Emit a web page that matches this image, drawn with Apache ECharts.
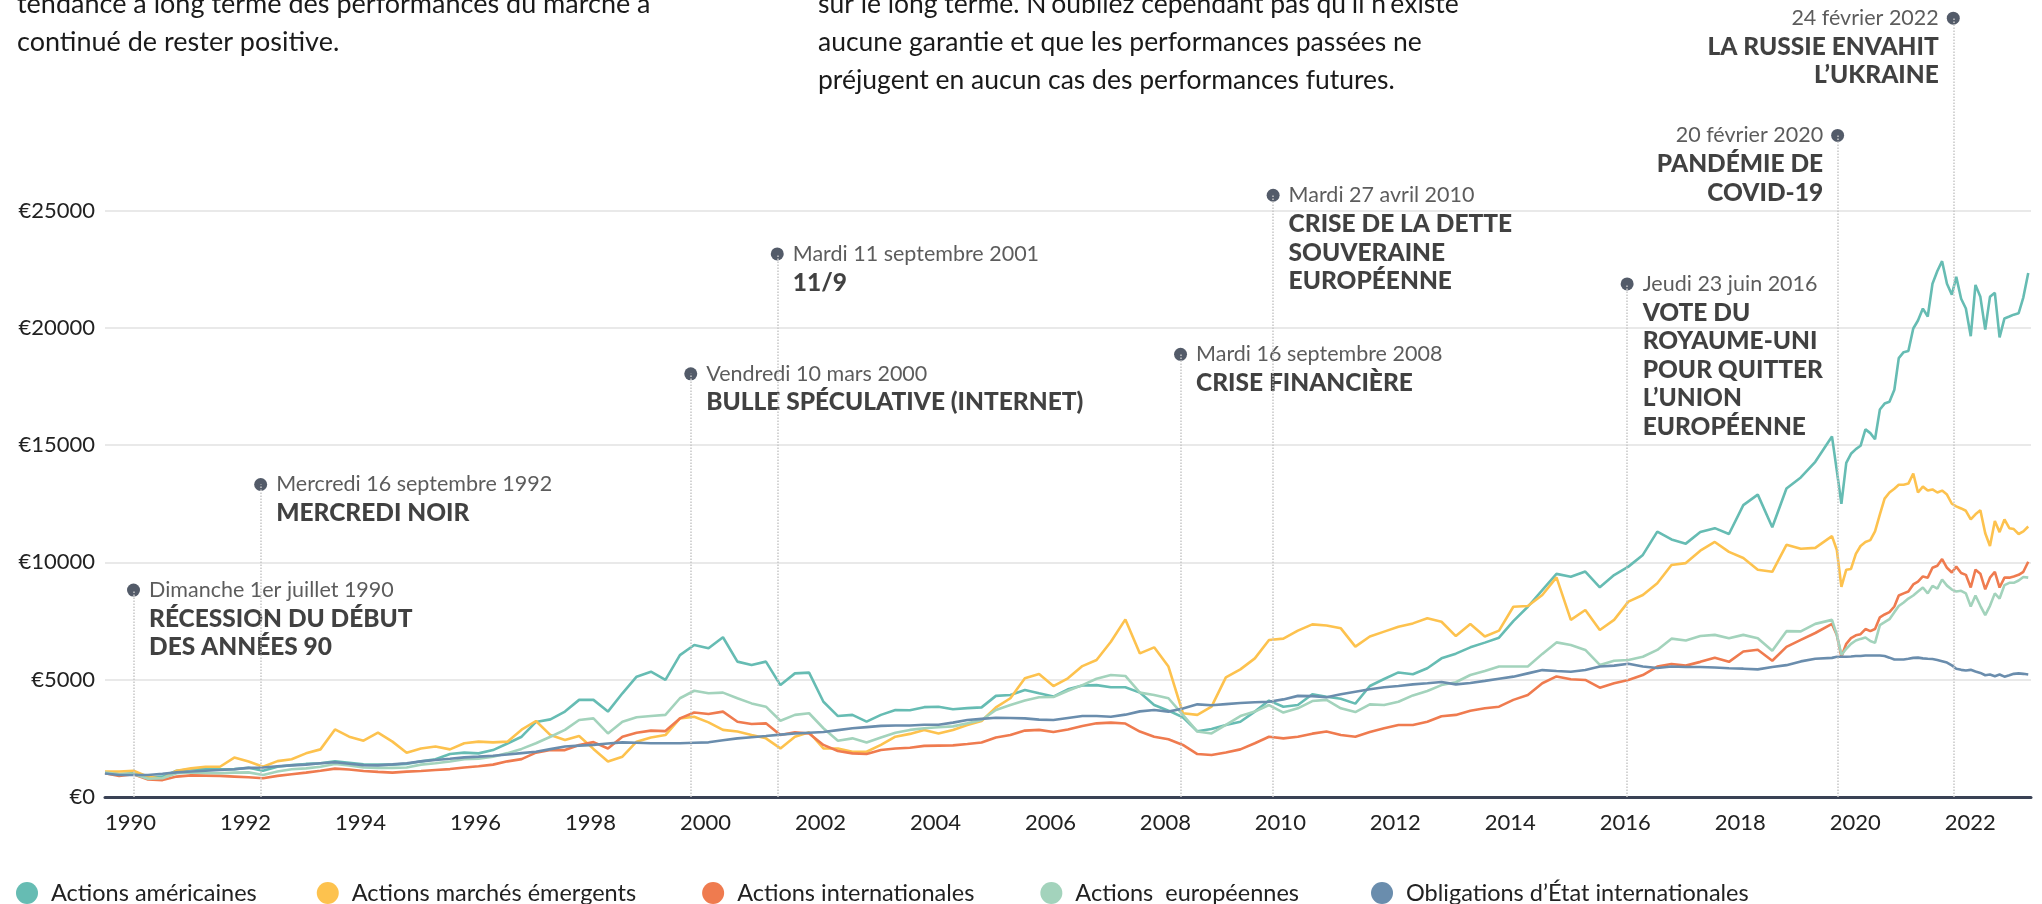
<!DOCTYPE html>
<html>
<head>
<meta charset="utf-8">
<title>Performances des marchés 1990-2023</title>
<script src="https://cdn.jsdelivr.net/npm/echarts@6/dist/echarts.min.js"></script>
<style>
  html, body { margin: 0; padding: 0; background: #fff; }
  #chart { width: 2042px; height: 904px; }
</style>
</head>
<body>
<div id="chart"></div>
<script>
// dates : trimestriel 1990-2019, puis mensuel 2020-2023
var dates = [];
for (var y = 1990; y <= 2019; y++) {
  ['01', '04', '07', '10'].forEach(function (m) { dates.push(y + '-' + m + '-01'); });
}
for (var y2 = 2020; y2 <= 2023; y2++) {
  for (var m2 = 1; m2 <= 12; m2++) {
    if (y2 === 2023 && m2 > 6) break;
    dates.push(y2 + '-' + (m2 < 10 ? '0' : '') + m2 + '-15');
  }
}

var seriesNames = ['Actions américaines', 'Actions marchés émergents', 'Actions internationales', 'Actions  européennes', 'Obligations d’État internationales'];
var seriesColors = ['#66bcb3', '#fdc24e', '#ef7b4f', '#a3d3bc', '#6a8dad'];

// 1990 -> 2019, trimestriel
var usQ = [1050, 980, 1010, 840, 870, 1120, 1180, 1180, 1180, 1190, 1250, 1120, 1290, 1360, 1410, 1440,
  1520, 1460, 1390, 1380, 1380, 1410, 1520, 1610, 1830, 1890, 1860, 2000, 2280, 2570, 3200, 3310,
  3640, 4140, 4140, 3640, 4420, 5130, 5340, 4990, 6050, 6480, 6340, 6810, 5770, 5630, 5770, 4770,
  5270, 5300, 4060, 3450, 3500, 3210, 3500, 3710, 3700, 3830, 3850, 3740, 3790, 3820, 4310, 4350,
  4560, 4420, 4280, 4590, 4750, 4770, 4680, 4680, 4450, 3920, 3680, 3400, 2800, 2900, 3070, 3210,
  3640, 4110, 3850, 3920, 4380, 4270, 4190, 3980, 4730, 5030, 5310, 5230, 5490, 5910, 6110, 6380,
  6580, 6790, 7500, 8110, 8820, 9510, 9390, 9610, 8940, 9460, 9820, 10320, 11310, 10980, 10800, 11300,
  11460, 11210, 12440, 12890, 11500, 13150, 13620, 14290];
var emQ = [1080, 1090, 1120, 870, 770, 1120, 1220, 1290, 1290, 1680, 1510, 1290, 1530, 1610, 1860, 2030,
  2880, 2570, 2400, 2740, 2360, 1890, 2070, 2150, 2030, 2290, 2360, 2330, 2360, 2870, 3240, 2640,
  2430, 2600, 2050, 1510, 1720, 2360, 2540, 2640, 3350, 3420, 3180, 2860, 2790, 2640, 2500, 2070,
  2570, 2760, 2070, 2070, 1930, 1930, 2220, 2570, 2690, 2860, 2710, 2860, 3070, 3240, 3820, 4210,
  5060, 5240, 4730, 5060, 5580, 5840, 6620, 7570, 6120, 6380, 5560, 3570, 3500, 3850, 5100, 5440,
  5910, 6690, 6750, 7090, 7360, 7310, 7190, 6410, 6840, 7050, 7260, 7400, 7620, 7470, 6860, 7370,
  6840, 7090, 8110, 8140, 8610, 9360, 7550, 7970, 7120, 7550, 8330, 8610, 9110, 9890, 9970, 10500,
  10870, 10450, 10190, 9690, 9600, 10750, 10580, 10620];
var intlQ = [1010, 900, 970, 750, 720, 870, 920, 910, 900, 870, 840, 800, 900, 970, 1040, 1120,
  1210, 1170, 1110, 1070, 1040, 1080, 1110, 1150, 1190, 1260, 1310, 1380, 1520, 1615, 1890, 2000,
  2000, 2220, 2340, 2070, 2570, 2740, 2830, 2810, 3350, 3600, 3540, 3640, 3210, 3110, 3140, 2640,
  2760, 2710, 2220, 1960, 1860, 1830, 2000, 2070, 2100, 2180, 2190, 2200, 2260, 2320, 2540, 2640,
  2830, 2860, 2770, 2880, 3030, 3140, 3170, 3130, 2790, 2570, 2460, 2220, 1830, 1790, 1900, 2030,
  2290, 2570, 2500, 2570, 2700, 2790, 2640, 2570, 2770, 2930, 3070, 3070, 3210, 3440, 3500, 3680,
  3780, 3850, 4140, 4350, 4850, 5140, 5020, 4990, 4660, 4850, 4990, 5200, 5560, 5670, 5600, 5760,
  5940, 5760, 6200, 6280, 5810, 6400, 6700, 6990];
var euQ = [1040, 970, 980, 780, 800, 1010, 1050, 1020, 1010, 1040, 1050, 940, 1090, 1180, 1220, 1290,
  1410, 1340, 1260, 1240, 1240, 1260, 1380, 1440, 1510, 1610, 1630, 1720, 1870, 2050, 2290, 2570,
  2860, 3280, 3350, 2710, 3210, 3400, 3450, 3500, 4210, 4530, 4420, 4450, 4210, 3990, 3850, 3250,
  3500, 3570, 2930, 2400, 2500, 2320, 2540, 2740, 2860, 2930, 2970, 3010, 3140, 3280, 3710, 3920,
  4110, 4250, 4260, 4530, 4770, 5040, 5200, 5160, 4450, 4350, 4210, 3500, 2790, 2710, 3070, 3450,
  3640, 3920, 3600, 3780, 4090, 4140, 3780, 3620, 3950, 3920, 4060, 4330, 4520, 4770, 4890, 5200,
  5370, 5560, 5560, 5560, 6100, 6590, 6480, 6270, 5630, 5810, 5840, 5980, 6270, 6750, 6670, 6860,
  6910, 6770, 6910, 6770, 6230, 7070, 7060, 7380];
var bondQ = [1000, 940, 940, 940, 990, 1050, 1090, 1120, 1150, 1180, 1240, 1260, 1310, 1350, 1380, 1440,
  1480, 1420, 1360, 1350, 1390, 1440, 1520, 1580, 1630, 1690, 1720, 1760, 1810, 1870, 1930, 2040,
  2150, 2190, 2220, 2280, 2330, 2310, 2290, 2290, 2290, 2310, 2330, 2420, 2500, 2550, 2600, 2660,
  2710, 2740, 2770, 2850, 2930, 2980, 3030, 3050, 3050, 3080, 3080, 3170, 3280, 3330, 3380, 3370,
  3350, 3300, 3280, 3370, 3450, 3450, 3420, 3510, 3650, 3710, 3640, 3770, 3950, 3910, 3960, 4010,
  4040, 4060, 4160, 4310, 4300, 4250, 4380, 4490, 4590, 4680, 4730, 4800, 4850, 4900, 4800, 4860,
  4950, 5040, 5130, 5270, 5410, 5370, 5340, 5410, 5560, 5600, 5680, 5560, 5500, 5560, 5540, 5540,
  5520, 5490, 5470, 5440, 5540, 5620, 5780, 5890];

// janvier 2020 -> juin 2023, mensuel
var usM = [15370, 13900, 12500, 14240, 14630, 14830, 14970, 15670, 15510, 15250, 16520, 16770,
  16850, 17360, 18710, 18960, 19010, 19970, 20310, 20820, 20480, 21880, 22420, 22840,
  21880, 21410, 22170, 21240, 20820, 19640, 21830, 21320, 19920, 21320, 21490, 19590,
  20400, 20480, 20560, 20620, 21300, 22340];
var emM = [11120, 10530, 8960, 9690, 9720, 10360, 10700, 10870, 10950, 11320, 12050, 12720,
  12980, 13140, 13310, 13310, 13360, 13790, 12980, 13230, 13060, 13110, 12980, 13060,
  12890, 12500, 12390, 12300, 12200, 11830, 12050, 12220, 11240, 10700, 11760, 11290,
  11830, 11460, 11420, 11210, 11320, 11530];
var intlM = [7380, 6910, 5980, 6530, 6770, 6890, 6940, 7160, 7070, 7160, 7660, 7780,
  7880, 8120, 8590, 8680, 8760, 9060, 9180, 9400, 9350, 9770, 9860, 10140,
  9770, 9570, 9820, 9550, 9470, 8930, 9690, 9520, 8850, 9350, 9600, 8930,
  9350, 9350, 9400, 9470, 9600, 10030];
var euM = [7550, 6910, 6060, 6320, 6530, 6670, 6740, 6800, 6650, 6570, 7330, 7450,
  7580, 7880, 8140, 8290, 8460, 8590, 8760, 8930, 8680, 9000, 8880, 9270,
  9010, 8840, 8760, 8790, 8680, 8120, 8590, 8150, 7750, 8150, 8680, 8460,
  9030, 9130, 9130, 9230, 9380, 9350];
var bondM = [5930, 5980, 5980, 5980, 5990, 6010, 6010, 6030, 6030, 6030, 6030, 6010,
  5940, 5860, 5860, 5860, 5890, 5930, 5940, 5910, 5890, 5880, 5840, 5790,
  5730, 5610, 5470, 5420, 5390, 5420, 5350, 5290, 5190, 5220, 5150, 5220,
  5130, 5190, 5250, 5270, 5250, 5220];

var yTicks = [0, 5000, 10000, 15000, 20000, 25000];

// événements
var eventDates = ['1990-07-01', '1992-09-16', '2000-03-10', '2001-09-11', '2008-09-16', '2010-04-27', '2016-06-23', '2020-02-20', '2022-02-24'];
var eventLevels = [8820, 13320, 18040, 23150, 18870, 25650, 21870, 28200, 33200];
var eventDays = ['Dimanche 1er juillet 1990', 'Mercredi 16 septembre 1992', 'Vendredi 10 mars 2000', 'Mardi 11 septembre 2001',
  'Mardi 16 septembre 2008', 'Mardi 27 avril 2010', 'Jeudi 23 juin 2016', '20 février 2020', '24 février 2022'];
var eventTitles = [
  ['RÉCESSION DU DÉBUT', 'DES ANNÉES 90'],
  ['MERCREDI NOIR'],
  ['BULLE SPÉCULATIVE (INTERNET)'],
  ['11/9'],
  ['CRISE FINANCIÈRE'],
  ['CRISE DE LA DETTE', 'SOUVERAINE', 'EUROPÉENNE'],
  ['VOTE DU', 'ROYAUME-UNI', 'POUR QUITTER', 'L’UNION', 'EUROPÉENNE'],
  ['PANDÉMIE DE', 'COVID-19'],
  ['LA RUSSIE ENVAHIT', 'L’UKRAINE']
];
var eventLeft = [false, false, false, false, false, false, false, true, true];

var introLeft = 'tendance à long terme des performances du marché a\ncontinué de rester positive.';
var introRight = 'sur le long terme. N’oubliez cependant pas qu’il n’existe\naucune garantie et que les performances passées ne\npréjugent en aucun cas des performances futures.';

function toYear(s) {
  var p = s.split('-');
  var yy = +p[0], mm = +p[1], dd = +p[2];
  var a = Date.UTC(yy, 0, 1), b = Date.UTC(yy + 1, 0, 1);
  return yy + (Date.UTC(yy, mm - 1, dd) - a) / (b - a);
}

var FONT = 'Lato, "Noto Sans", sans-serif';
var allValues = [usQ.concat(usM), emQ.concat(emM), intlQ.concat(intlM), euQ.concat(euM), bondQ.concat(bondM)];

var chart = echarts.init(document.getElementById('chart'));

var lineSeries = allValues.map(function (vals, k) {
  return {
    type: 'line',
    name: seriesNames[k],
    xAxisIndex: 0,
    yAxisIndex: 0,
    showSymbol: false,
    symbol: 'none',
    z: 3,
    color: seriesColors[k],
    lineStyle: { width: 2.6, color: seriesColors[k] },
    data: dates.map(function (d, i) { return [toYear(d), vals[i]]; })
  };
});

var eventSeries = {
  type: 'scatter',
  xAxisIndex: 1,
  yAxisIndex: 1,
  z: 2,
  symbol: 'circle',
  symbolSize: 13,
  itemStyle: { color: '#283244' },
  silent: true,
  data: eventDates.map(function (d, i) {
    var left = eventLeft[i];
    var txt = '{' + (left ? 'dr' : 'd') + '|' + eventDays[i] + '}';
    eventTitles[i].forEach(function (t) { txt += '\n{' + (left ? 'tr' : 't') + '|' + t + '}'; });
    return {
      value: [toYear(d), eventLevels[i]],
      label: {
        show: true,
        position: left ? [-8, -8] : [22, -8],
        align: left ? 'right' : 'left',
        verticalAlign: 'top',
        formatter: txt
      }
    };
  }),
  label: {
    show: true,
    rich: {
      d: { fontFamily: FONT, fontSize: 21.5, fontWeight: 'normal', color: '#333', lineHeight: 29, align: 'left' },
      t: { fontFamily: FONT, fontSize: 24.5, fontWeight: 900, color: '#111', lineHeight: 28.6, align: 'left' },
      dr: { fontFamily: FONT, fontSize: 21.5, fontWeight: 'normal', color: '#333', lineHeight: 29, align: 'right' },
      tr: { fontFamily: FONT, fontSize: 24.5, fontWeight: 900, color: '#111', lineHeight: 28.6, align: 'right' }
    }
  },
  markLine: {
    silent: true,
    symbol: 'none',
    label: { show: false },
    lineStyle: { color: '#c6c6c6', type: 'dotted', width: 1.5 },
    data: eventDates.map(function (d, i) {
      return [{ coord: [toYear(d), 0] }, { coord: [toYear(d), eventLevels[i]] }];
    })
  }
};

// espaces ajoutés après certains libellés de légende
var legendTrail = ['', ' ', ' ', '  ', ''];

var option = {
  animation: false,
  backgroundColor: '#fff',
  textStyle: { fontFamily: FONT },
  grid: [
    { left: 105, right: 11, top: 210.5, bottom: 107 },
    { left: 105, right: 11, top: 0, bottom: 107 }
  ],
  legend: {
    left: 11,
    top: 876,
    icon: 'circle',
    itemWidth: 22,
    itemHeight: 22,
    itemGap: 60,
    data: seriesNames,
    formatter: function (name) { return name + legendTrail[seriesNames.indexOf(name)]; },
    textStyle: { fontFamily: FONT, fontSize: 23.5, color: '#222', padding: [0, 0, 0, 8] }
  },
  xAxis: [
    {
      type: 'value', gridIndex: 0, min: 1990, max: 2023.5, interval: 2,
      axisLine: { show: true, lineStyle: { color: '#3a4255', width: 3 } },
      axisTick: { show: false },
      splitLine: { show: false },
      axisLabel: {
        align: 'left', margin: 15, fontSize: 22, color: '#222', fontFamily: FONT,
        showMaxLabel: false,
        formatter: function (v) { return (v % 2 === 0 && v <= 2022) ? String(v) : ''; }
      }
    },
    { type: 'value', gridIndex: 1, min: 1990, max: 2023.5, show: false }
  ],
  yAxis: [
    {
      type: 'value', gridIndex: 0, min: yTicks[0], max: yTicks[yTicks.length - 1], interval: 5000,
      axisLine: { show: false },
      axisTick: { show: false },
      splitLine: { lineStyle: { color: '#e2e2e2', width: 1.5 } },
      axisLabel: { margin: 10, fontSize: 22, color: '#222', fontFamily: FONT, formatter: function (v) { return '€' + v; } }
    },
    // même échelle que l'axe principal, prolongée jusqu'au haut de la page
    { type: 'value', gridIndex: 1, min: 0, max: 33973, show: false }
  ],
  graphic: [
    { type: 'text', x: 17, y: -15, silent: true, style: { text: introLeft, font: '27px ' + FONT, fill: '#1a1a1a', lineHeight: 38, verticalAlign: 'top' } },
    { type: 'text', x: 818, y: -15, silent: true, style: { text: introRight, font: '26.5px ' + FONT, fill: '#1a1a1a', lineHeight: 38, verticalAlign: 'top' } }
  ],
  series: [eventSeries].concat(lineSeries)
};

chart.setOption(option);
</script>
</body>
</html>
